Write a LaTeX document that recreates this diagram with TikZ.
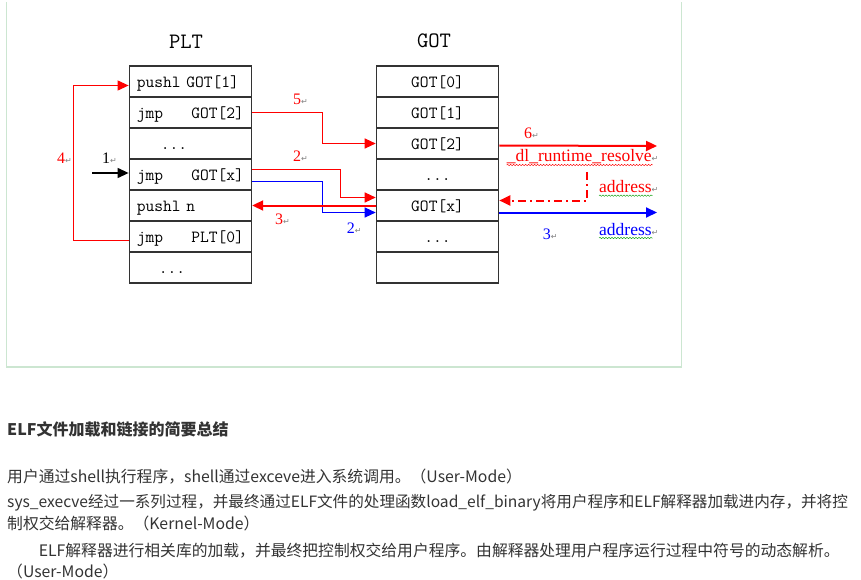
\documentclass[tikz,border=0pt]{standalone}
\usepackage{fontspec}
\usepackage{tikz}
\usepackage{xcolor}
\usetikzlibrary{arrows.meta,decorations.pathmorphing}
\newfontfamily\cjkfont{Noto Sans CJK SC}
\newfontfamily\numfont{Liberation Serif}
\newfontfamily\symfont{DejaVu Sans}
\definecolor{framegreen}{RGB}{204,230,209}
\definecolor{bodygray}{RGB}{51,51,51}
\definecolor{spellgreen}{RGB}{40,170,40}
\newcommand{\retmark}{{\color{gray}\symfont\fontsize{8}{8}\selectfont ↵}}

\tikzset{
  cell/.style={draw=black!80, line width=1.6pt, minimum width=122pt, minimum height=31pt,
    inner sep=0pt, text width=107pt, text height=12pt, text depth=0pt,
    font=\ttfamily\fontsize{17}{17}\selectfont},
  title/.style={font=\ttfamily\fontsize{22}{22}\selectfont, inner sep=0pt},
  numlab/.style={font=\numfont\fontsize{16}{16}\selectfont, inner sep=0pt, anchor=base west},
  wordlab/.style={font=\numfont\fontsize{17.5}{17.5}\selectfont, inner sep=0pt, anchor=base west},
  link/.style={line width=1.2pt, -{Triangle[length=11pt,width=10pt]}},
  wide/.style={line width=2pt, -{Triangle[length=11pt,width=10pt]}},
  spell/.style={draw=#1, line width=0.5pt, decorate, decoration={snake, amplitude=0.7pt, segment length=3pt}},
  body/.style={font=\cjkfont\fontsize{15.8}{15.8}\selectfont, text=bodygray, inner sep=0pt, anchor=base west}
}

\begin{document}
\begin{tikzpicture}[x=1pt,y=-1pt]
\useasboundingbox (0,0) rectangle (861,580);
%% frame
\draw[framegreen, line width=1.5pt] (6.7,2) -- (6.7,367) -- (681.3,367) -- (681.3,2);
%% tables
\node[title] (pltname) at (186,42) {PLT};
\node[title] (gotname) at (434,41) {GOT};
\foreach \i/\txt in {1/{pushl GOT[1]},2/{jmp\hfill GOT[2]},3/{\hspace*{24pt}...},4/{jmp\hfill GOT[x]},
                     5/{pushl n},6/{jmp\hfill PLT[0]},7/{\hspace*{22pt}...}}
  \node[cell, align=left] (plt\i) at (190.4,{81.5+31*(\i-1)}) {\txt};
\foreach \i/\txt in {1/{GOT[0]},2/{GOT[1]},3/{GOT[2]},4/{...},5/{GOT[x]},6/{...},7/{}}
  \node[cell, align=center] (got\i) at (437.5,{81.5+31*(\i-1)}) {\txt};
%% free ends
\coordinate (src1) at (92,173);
\coordinate (res6) at (657,146);
\coordinate (ret) at (587,172);
\coordinate (addr3) at (657,212.5);
%% jumps
\draw[link] (src1) -- ([yshift=1.5pt]plt4.west);
\draw[link, red] ([yshift=5pt]plt4.east) -- ++(88,0) |- ([yshift=8pt]got5.west);
\draw[link, blue] ([yshift=-7pt]plt4.east) -- ++(70,0) |- ([yshift=-7pt]got5.west);
\draw[wide, red] (got5.west) -- (plt5.east);
\draw[link, red] ([yshift=-4pt]plt6.west) -- ++(-55,0) |- ([yshift=-4pt]plt1.west);
\draw[link, red] (plt2.east) -- ++(70,0) |- (got3.west);
\draw[wide, red] ([yshift=-2pt]got3.east) -- (res6);
\draw[wide, red, dash pattern=on 8pt off 4pt on 2pt off 4pt] (ret) |- ([yshift=5pt]got5.east);
\draw[wide, blue] ([yshift=-7pt]got5.east) -- (addr3);
%% step numbers
\node[numlab, red] (n4) at (57,164) {4\retmark};
\node[numlab] (n1) at (102,164) {1\retmark};
\node[numlab, red] (n5) at (293,105) {5\retmark};
\node[numlab, red] (n2r) at (293,161.7) {2\retmark};
\node[numlab, red] (n3r) at (275,224) {3\retmark};
\node[numlab, blue] (n2b) at (346.7,233.3) {2\retmark};
\node[numlab, red] (n6) at (524,138.3) {6\retmark};
\node[numlab, blue] (n3b) at (542.7,239.3) {3\retmark};
\node[wordlab, red] (resolve) at (506.7,161.5) {\_dl\_runtime\_resolve\retmark};
\node[wordlab, red] (addrr) at (599,192.7) {address\retmark};
\node[wordlab, blue] (addrb) at (599,235) {address\retmark};
\draw[spell=red] ([yshift=-3.5pt]resolve.base west) -- ([xshift=-6pt,yshift=-3.5pt]resolve.base east);
\draw[spell=spellgreen] ([yshift=-3pt]addrr.base west) -- ([xshift=-6pt,yshift=-3pt]addrr.base east);
\draw[spell=spellgreen] ([yshift=-3pt]addrb.base west) -- ([xshift=-6pt,yshift=-3pt]addrb.base east);
%% summary text
\node[body, font=\cjkfont\bfseries\fontsize{16}{16}\selectfont] (head) at (7,435) {ELF文件加载和链接的简要总结};
\node[body] (line1) at (7,482) {用户通过shell执行程序，shell通过exceve进入系统调用。（User-Mode）};
\node[body, font=\cjkfont\fontsize{15.6}{15.6}\selectfont] (line2) at (7,507) {sys\_execve经过一系列过程，并最终通过ELF文件的处理函数load\_elf\_binary将用户程序和ELF解释器加载进内存，并将控};
\node[body] (line3) at (7,529) {制权交给解释器。（Kernel-Mode）};
\node[body] (line4) at (7,556) {　　ELF解释器进行相关库的加载，并最终把控制权交给用户程序。由解释器处理用户程序运行过程中符号的动态解析。};
\node[body] (line5) at (7,577) {（User-Mode）};
\end{tikzpicture}
\end{document}
